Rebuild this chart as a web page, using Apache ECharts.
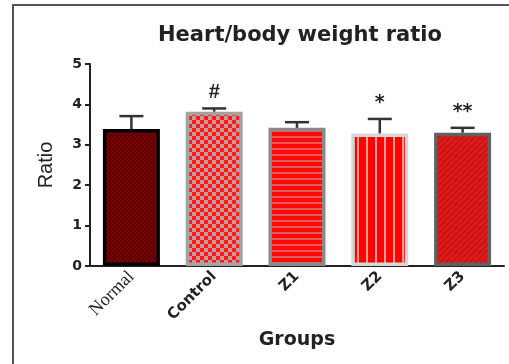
<!DOCTYPE html>
<html><head><meta charset="utf-8">
<script src="https://cdn.jsdelivr.net/npm/echarts@6/dist/echarts.min.js"></script>
<style>html,body{margin:0;padding:0;background:#fff;}#c{width:509px;height:364px;}</style>
</head><body><div id="c"></div>
<script>
const categories = ['Normal', 'Control', 'Z1', 'Z2', 'Z3'];
const means = [3.39, 3.82, 3.42, 3.28, 3.30];
const errors = [0.32, 0.08, 0.14, 0.36, 0.12];
const sigMarks = ['', '#', '', '*', '**'];
const yTicks = [0, 1, 2, 3, 4, 5];

function pat(w, h, draw) {
  const c = document.createElement('canvas');
  c.width = w; c.height = h;
  const g = c.getContext('2d');
  draw(g, w, h);
  return { image: c, repeat: 'repeat' };
}
const patterns = [
  pat(4, 4, (g) => { g.fillStyle = '#7a0202'; g.fillRect(0,0,4,4); g.fillStyle = '#5c0000'; g.fillRect(0,0,2,2); g.fillRect(2,2,2,2); }),
  pat(8, 8, (g) => { g.fillStyle = '#c79a9a'; g.fillRect(0,0,8,8); g.fillStyle = '#ff1a1a'; g.fillRect(0,0,4,4); g.fillRect(4,4,4,4); }),
  pat(6, 6, (g) => { g.fillStyle = '#ff0808'; g.fillRect(0,0,6,6); g.fillStyle = '#e25a5a'; g.fillRect(0,4,6,2); }),
  pat(9, 6, (g) => { g.fillStyle = '#ff0303'; g.fillRect(0,0,9,6); g.fillStyle = '#ff9a9a'; g.fillRect(6,0,2,6); }),
  pat(6, 6, (g) => { g.fillStyle = '#dc1a1a'; g.fillRect(0,0,6,6); g.strokeStyle = '#c21010'; g.lineWidth = 1.2; g.beginPath(); g.moveTo(0,6); g.lineTo(6,0); g.moveTo(-3,3); g.lineTo(3,-3); g.moveTo(3,9); g.lineTo(9,3); g.stroke(); })
];
const borders = ['#000000', '#a3a3a3', '#8a8a8a', '#d6d6d6', '#606060'];

const chart = echarts.init(document.getElementById('c'));
chart.setOption({
  animation: false,
  title: { text: 'Heart/body weight ratio', left: 295, top: 20, textAlign: 'center',
    textStyle: { fontFamily: 'DejaVu Sans', fontWeight: 'bold', fontSize: 21, color: '#222' } },
  graphic: [
    { type: 'polyline', shape: { points: [[13, 364], [13, 5], [509, 5]] }, style: { stroke: '#555', lineWidth: 2, fill: null } }
  ],
  grid: { left: 90, top: 64, width: 414, height: 202 },
  xAxis: {
    type: 'category', data: categories,
    name: 'Groups', nameLocation: 'middle', nameGap: 65,
    nameTextStyle: { fontFamily: 'DejaVu Sans', fontWeight: 'bold', fontSize: 19, color: '#222' },
    axisLine: { lineStyle: { color: '#222', width: 2 } },
    axisTick: { alignWithLabel: true, length: 5, lineStyle: { color: '#222', width: 2 } },
    axisLabel: { rotate: 45, margin: 8, fontFamily: 'DejaVu Sans', fontWeight: 'bold', fontSize: 15, color: '#222',
      formatter: (v) => v === 'Normal' ? '{s|' + v + '}' : v,
      rich: { s: { fontFamily: 'Liberation Serif', fontWeight: 'normal', fontSize: 18, color: '#222' } } }
  },
  yAxis: {
    type: 'value', min: 0, max: 5, interval: 1,
    name: 'Ratio', nameLocation: 'middle', nameGap: 34,
    nameTextStyle: { fontFamily: 'Liberation Sans Narrow, Liberation Sans', fontSize: 20, color: '#222' },
    axisLine: { show: true, lineStyle: { color: '#222', width: 2 } },
    axisTick: { show: true, length: 5, lineStyle: { color: '#222', width: 2 } },
    splitLine: { show: false },
    axisLabel: { margin: 8, fontFamily: 'DejaVu Sans', fontWeight: 'bold', fontSize: 14, color: '#222',
      formatter: (v) => yTicks.includes(v) ? String(v) : '' }
  },
  series: [
    {
      type: 'bar', barWidth: 57,
      data: means.map((m, i) => ({ value: m, itemStyle: { color: patterns[i], borderColor: borders[i], borderWidth: 3.5 } }))
    },
    {
      type: 'custom', z: 5,
      data: means.map((m, i) => [i, m, m + errors[i], sigMarks[i]]),
      renderItem: (params, api) => {
        const x = api.value(0);
        const p0 = api.coord([x, api.value(1)]);
        const p1 = api.coord([x, api.value(2)]);
        const hw = 12;
        const s = { stroke: '#333', lineWidth: 2.5 };
        const children = [
          { type: 'line', shape: { x1: p0[0], y1: p0[1], x2: p1[0], y2: p1[1] }, style: s },
          { type: 'line', shape: { x1: p1[0] - hw, y1: p1[1], x2: p1[0] + hw, y2: p1[1] }, style: s }
        ];
        const mark = sigMarks[params.dataIndex];
        if (mark) {
          children.push({ type: 'text', style: { text: mark, x: p1[0], y: p1[1] - 6, align: 'center', verticalAlign: 'bottom',
            font: mark === '#' ? 'bold 20px Liberation Sans' : 'bold 19px DejaVu Sans', fill: '#222' } });
        }
        return { type: 'group', children };
      }
    }
  ]
});
</script></body></html>
